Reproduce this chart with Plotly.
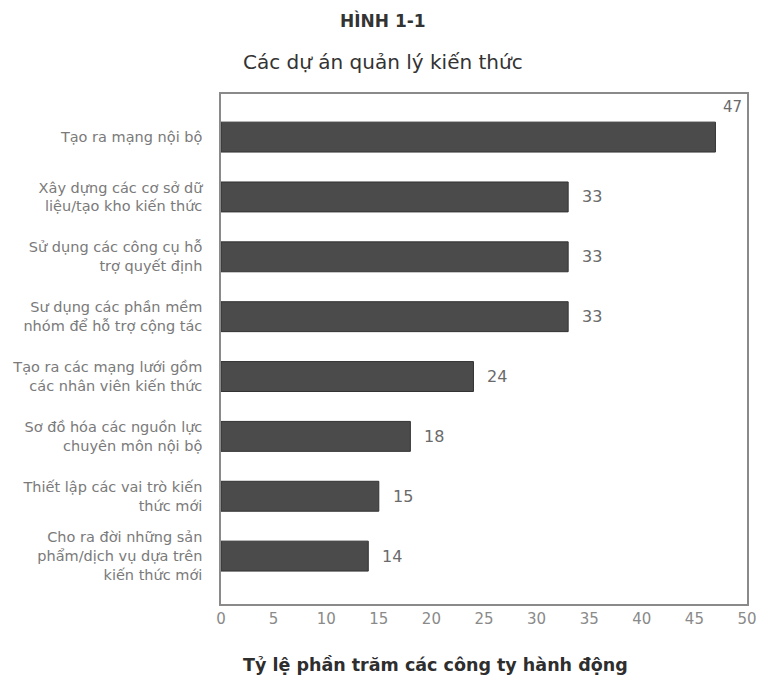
import plotly.graph_objects as go

# Knowledge-management projects and the share of companies pursuing each
categories = [
    "Tạo ra mạng nội bộ",
    "Xây dựng các cơ sở dữ<br>liệu/tạo kho kiến thức",
    "Sử dụng các công cụ hỗ<br>trợ quyết định",
    "Sư dụng các phần mềm<br>nhóm để hỗ trợ cộng tác",
    "Tạo ra các mạng lưới gồm<br>các nhân viên kiến thức",
    "Sơ đồ hóa các nguồn lực<br>chuyên môn nội bộ",
    "Thiết lập các vai trò kiến<br>thức mới",
    "Cho ra đời những sản<br>phẩm/dịch vụ dựa trên<br>kiến thức mới",
]
percentages = [47, 33, 33, 33, 24, 18, 15, 14]
x_ticks = [0, 5, 10, 15, 20, 25, 30, 35, 40, 45, 50]

FONT = "DejaVu Sans, Verdana, sans-serif"

W, H = 769, 692
M_L, M_R, M_T, M_B = 219, 13, 94, 88
plot_w = W - M_L - M_R

fig = go.Figure(
    go.Bar(
        x=percentages,
        y=categories,
        orientation="h",
        width=0.5,
        marker=dict(color="#4b4b4b", line=dict(color="#333333", width=1)),
        hoverinfo="x+y",
    )
)

# Value labels beside each bar; the top bar carries its label above its end
for i, (cat, val) in enumerate(zip(categories, percentages)):
    if i == 0:
        fig.add_annotation(
            x=val, y=cat, xref="x", yref="y", text=str(val),
            showarrow=False, xanchor="left", yanchor="middle",
            xshift=6, yshift=30,
            font=dict(family=FONT, size=15, color="#6a6a6a"),
        )
    else:
        fig.add_annotation(
            x=val, y=cat, xref="x", yref="y", text=str(val),
            showarrow=False, xanchor="left", yanchor="middle",
            xshift=12,
            font=dict(family=FONT, size=16, color="#6a6a6a"),
        )

fig.update_layout(
    width=W,
    height=H,
    margin=dict(l=M_L, r=M_R, t=M_T, b=M_B),
    paper_bgcolor="white",
    plot_bgcolor="white",
    showlegend=False,
    font=dict(family=FONT, color="#777777"),
    xaxis=dict(
        range=[0, 50],
        tickvals=x_ticks,
        ticks="",
        showgrid=False,
        zeroline=False,
        showline=True,
        linecolor="#8a8a8a",
        linewidth=1.5,
        mirror=True,
        tickfont=dict(family=FONT, size=15, color="#8a8a8a"),
    ),
    yaxis=dict(
        type="category",
        categoryorder="array",
        categoryarray=categories,
        range=[7.8, -0.72],
        ticks="",
        showgrid=False,
        zeroline=False,
        showline=True,
        linecolor="#8a8a8a",
        linewidth=1.5,
        mirror=True,
        ticklabelstandoff=14,
        tickfont=dict(family=FONT, size=14.5, color="#7a7a7a"),
    ),
)

# Figure number and chart title, centred on the page
page_center = (W / 2 - M_L) / plot_w
fig.add_annotation(
    text="<b>HÌNH 1-1</b>", xref="paper", yref="paper", x=page_center, y=1,
    xanchor="center", yanchor="middle", yshift=74, showarrow=False,
    font=dict(family=FONT, size=17, color="#333333"),
)
fig.add_annotation(
    text="Các dự án quản lý kiến thức", xref="paper", yref="paper",
    x=page_center, y=1, xanchor="center", yanchor="middle", yshift=32,
    showarrow=False, font=dict(family=FONT, size=20, color="#333333"),
)

# Axis caption below the tick labels
fig.add_annotation(
    text="<b>Tỷ lệ phần trăm các công ty hành động</b>", xref="paper",
    yref="paper", x=(438 - M_L) / plot_w, y=0, xanchor="center",
    yanchor="middle", yshift=-61,
    showarrow=False, font=dict(family=FONT, size=17.5, color="#2e2e2e"),
)

fig.write_html("out.html")
